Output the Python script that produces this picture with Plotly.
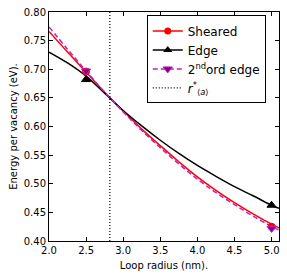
import plotly.graph_objects as go

# Fitted curves
r_curve = [2.0, 2.25, 2.5, 2.75, 3.0, 3.25, 3.5, 3.75, 4.0, 4.25, 4.5, 4.75, 5.0, 5.1]
sheared_curve = [0.766, 0.730, 0.695, 0.660, 0.627, 0.5955, 0.5665, 0.5385, 0.512, 0.4885, 0.467, 0.4475, 0.4295, 0.423]
edge_curve = [0.730, 0.711, 0.688, 0.658, 0.628, 0.601, 0.576, 0.553, 0.532, 0.513, 0.495, 0.479, 0.4625, 0.457]
edge2_curve = [0.774, 0.735, 0.697, 0.660, 0.6255, 0.593, 0.563, 0.5345, 0.508, 0.4845, 0.4635, 0.4435, 0.4255, 0.419]

# Data points
r_pts = [2.5, 5.0]
sheared_pts = [0.696, 0.425]
edge_pts = [0.682, 0.4625]
edge2_pts = [0.697, 0.422]

r_star = 2.82
y_range = [0.40, 0.80]
x_range = [2.0, 5.1]

x_ticks = [2.0, 2.5, 3.0, 3.5, 4.0, 4.5, 5.0]
x_labels = ["2.0", "2.5", "3.0", "3.5", "4.0", "4.5", "5.0"]
y_ticks = [0.40, 0.45, 0.50, 0.55, 0.60, 0.65, 0.70, 0.75, 0.80]
y_labels = ["0.40", "0.45", "0.50", "0.55", "0.60", "0.65", "0.70", "0.75", "0.80"]

RED = "#ff0000"
BLK = "#000000"
MAG = "#c020c0"
PUR = "#800080"

fig = go.Figure()

# curves
fig.add_trace(go.Scatter(x=r_curve, y=sheared_curve, mode="lines", line=dict(color=RED, width=1.5, shape="spline"), showlegend=False))
fig.add_trace(go.Scatter(x=r_curve, y=edge_curve, mode="lines", line=dict(color=BLK, width=1.5, shape="spline"), showlegend=False))
fig.add_trace(go.Scatter(x=r_curve, y=edge2_curve, mode="lines", line=dict(color=MAG, width=1.5, dash="5px,3px", shape="spline"), showlegend=False))

# points
fig.add_trace(go.Scatter(x=r_pts, y=sheared_pts, mode="markers", marker=dict(symbol="circle", size=7, color=RED, line=dict(color=RED, width=1)), showlegend=False, cliponaxis=False))
fig.add_trace(go.Scatter(x=r_pts, y=edge_pts, mode="markers", marker=dict(symbol="triangle-up", size=8, color=BLK, line=dict(color=BLK, width=1)), showlegend=False, cliponaxis=False))
fig.add_trace(go.Scatter(x=r_pts, y=edge2_pts, mode="markers", marker=dict(symbol="triangle-down", size=8, color=PUR, line=dict(color=MAG, width=1)), showlegend=False, cliponaxis=False))

# r* vertical line
fig.add_trace(go.Scatter(x=[r_star, r_star], y=y_range, mode="lines", line=dict(color=BLK, width=1.2, dash="1px,2px"), showlegend=False))

# legend entries
fig.add_trace(go.Scatter(x=[None], y=[None], mode="lines+markers", name="Sheared",
                         line=dict(color=RED, width=1.5), marker=dict(symbol="circle", size=7, color=RED)))
fig.add_trace(go.Scatter(x=[None], y=[None], mode="lines+markers", name="Edge",
                         line=dict(color=BLK, width=1.5), marker=dict(symbol="triangle-up", size=8, color=BLK)))
fig.add_trace(go.Scatter(x=[None], y=[None], mode="lines+markers", name="2<sup>nd</sup>ord edge",
                         line=dict(color=MAG, width=1.5, dash="5px,3px"), marker=dict(symbol="triangle-down", size=8, color=PUR, line=dict(color=MAG, width=1))))
fig.add_trace(go.Scatter(x=[None], y=[None], mode="lines", name="<i>r</i><sup>*</sup><sub>⟨<i>a</i>⟩</sub>",
                         line=dict(color=BLK, width=1.2, dash="1px,2px")))

axis_common = dict(
    showgrid=False, zeroline=False, showline=True, linecolor="black", linewidth=1,
    mirror="ticks", ticks="inside", ticklen=4, tickwidth=1, tickcolor="black",
    tickfont=dict(family="DejaVu Sans", size=10, color="black"), automargin=False,
)

fig.update_layout(
    width=287, height=278,
    margin=dict(l=49, r=8, t=12, b=37),
    paper_bgcolor="white", plot_bgcolor="white",
    font=dict(family="DejaVu Sans", color="black"),
    xaxis=dict(range=x_range, tickvals=x_ticks, ticktext=x_labels,
               title=dict(text="Loop radius (nm).", font=dict(size=10), standoff=6), **axis_common),
    yaxis=dict(range=y_range, tickvals=y_ticks, ticktext=y_labels,
               title=dict(text="Energy per vacancy (eV).", font=dict(size=10), standoff=4), **axis_common),
    legend=dict(x=0.425, y=0.985, xanchor="left", yanchor="top", bgcolor="white",
                bordercolor="black", borderwidth=1, font=dict(family="DejaVu Sans", size=12),
                tracegroupgap=0, itemwidth=30),
)

fig.write_html("out.html", config={"displayModeBar": False},
               post_script="document.body.style.margin='0';document.body.style.padding='0';")
